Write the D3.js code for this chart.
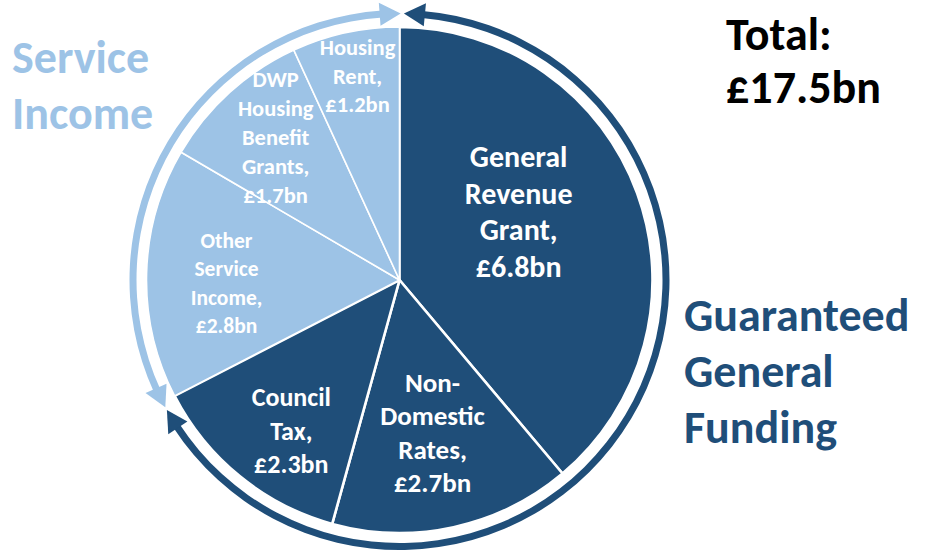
<!DOCTYPE html>
<html>
<head>
<meta charset="utf-8">
<script src="https://cdn.jsdelivr.net/npm/d3@7"></script>
<style>
  html, body { margin: 0; padding: 0; background: #ffffff; }
  svg { display: block; }
  text { font-family: Carlito, Calibri, Lato, "Open Sans", sans-serif; font-weight: 700; }
</style>
</head>
<body>
<svg id="chart" width="926" height="551"></svg>
<script>
// Funding sources (£bn), drawn clockwise from 12 o'clock
const categories = ["General Revenue Grant", "Non-Domestic Rates", "Council Tax",
                    "Other Service Income", "DWP Housing Benefit Grants", "Housing Rent"];
const values = [6.8, 2.7, 2.3, 2.8, 1.7, 1.2];
const groups = ["Guaranteed General Funding", "Guaranteed General Funding", "Guaranteed General Funding",
                "Service Income", "Service Income", "Service Income"];
const labelLines = [
  ["General", "Revenue", "Grant,"],
  ["Non-", "Domestic", "Rates,"],
  ["Council", "Tax,"],
  ["Other", "Service", "Income,"],
  ["DWP", "Housing", "Benefit", "Grants,"],
  ["Housing", "Rent,"]
];
const groupNames = ["Service Income", "Guaranteed General Funding"];

// Label placement inside each slice: radius as a share of the pie radius,
// angular nudge from the slice's mid angle (degrees), font size and line step
const labelRadius = [0.542, 0.621, 0.735, 0.684, 0.745, 0.822];
const labelNudge  = [-9.6, 0.2, -3.5, -2.7, 1.1, 0.7];
const labelSize   = [30, 27, 26, 21.5, 22.5, 22.5];
const labelStep   = [36.5, 33.5, 33.3, 28.5, 29, 28.3];

const colour = d3.scaleOrdinal()
  .domain(groupNames)
  .range(["#9DC3E6", "#1F4E79"]);

const svg = d3.select("#chart");
const cx = 399.5, cy = 280, R = 253;
const g = svg.append("g").attr("transform", `translate(${cx},${cy})`);

const data = categories.map((c, i) => ({ name: c, value: values[i], group: groups[i], i }));
const pie = d3.pie().sort(null).value(d => d.value).startAngle(0).endAngle(2 * Math.PI);
const arcs = pie(data);
const arc = d3.arc().innerRadius(0).outerRadius(R);

g.selectAll("path.slice")
  .data(arcs)
  .join("path")
  .attr("class", "slice")
  .attr("d", arc)
  .attr("fill", d => colour(d.data.group))
  .attr("stroke", "#ffffff")
  .attr("stroke-width", d => d.data.group === "Service Income" ? 1.6 : 2.6)
  .attr("stroke-linejoin", "round");

// Slice labels
const fmt = v => "£" + d3.format(".1f")(v) + "bn";
arcs.forEach(a => {
  const i = a.data.i;
  const lines = labelLines[i].concat([fmt(a.data.value)]);
  const mid = (a.startAngle + a.endAngle) / 2 + labelNudge[i] * Math.PI / 180;
  const r = labelRadius[i] * R;
  const x = r * Math.sin(mid), y = -r * Math.cos(mid);
  const fs = labelSize[i], lh = labelStep[i];
  const cap = 0.64 * fs;
  const first = y - (lines.length - 1) * lh / 2 + cap / 2;
  const t = g.append("text")
    .attr("text-anchor", "middle")
    .attr("fill", "#ffffff")
    .attr("font-size", fs);
  lines.forEach((ln, k) => {
    t.append("tspan").attr("x", x).attr("y", first + k * lh).text(ln);
  });
});

// Group rings with arrowheads at both ends
const rc = 266.5, ringW = 7, headLen = 21, headHalf = 11.5;
const deg = Math.PI / 180;
const polar = (r, a) => [r * Math.sin(a), -r * Math.cos(a)];
const ringArc = d3.arc().innerRadius(rc - ringW / 2).outerRadius(rc + ringW / 2);

// meeting points of the two rings: the top and the group boundary
const splitAngle = arcs[3].startAngle - 1.6 * deg;
const topAngle = 0.6 * deg;
const gap = 0.35 * deg;
const rings = [
  { group: "Guaranteed General Funding", from: topAngle + gap, to: splitAngle - gap },
  { group: "Service Income", from: splitAngle + gap, to: 2 * Math.PI + topAngle - gap }
];
const dA = headLen / rc;
rings.forEach(rg => {
  const fill = colour(rg.group);
  g.append("path")
    .attr("d", ringArc({ startAngle: rg.from + dA - 0.01, endAngle: rg.to - dA + 0.01 }))
    .attr("fill", fill);
  [[rg.from, -1], [rg.to, 1]].forEach(([tip, s]) => {
    const base = tip - s * dA;
    const pts = [polar(rc, tip), polar(rc + headHalf, base), polar(rc - headHalf, base)];
    g.append("path")
      .attr("d", d3.line()(pts) + "Z")
      .attr("fill", fill);
  });
});

// Group titles and total
const title = (lines, x, y0, step, fill) => {
  const t = svg.append("text").attr("font-size", 46).attr("fill", fill);
  lines.forEach((ln, k) => t.append("tspan").attr("x", x).attr("y", y0 + k * step).text(ln));
};
title(["Service", "Income"], 12, 73, 56, colour("Service Income"));
title(["Guaranteed", "General", "Funding"], 684, 331, 56, colour("Guaranteed General Funding"));
title(["Total:", fmt(d3.sum(values))], 726, 50, 53, "#000000");
</script>
</body>
</html>
